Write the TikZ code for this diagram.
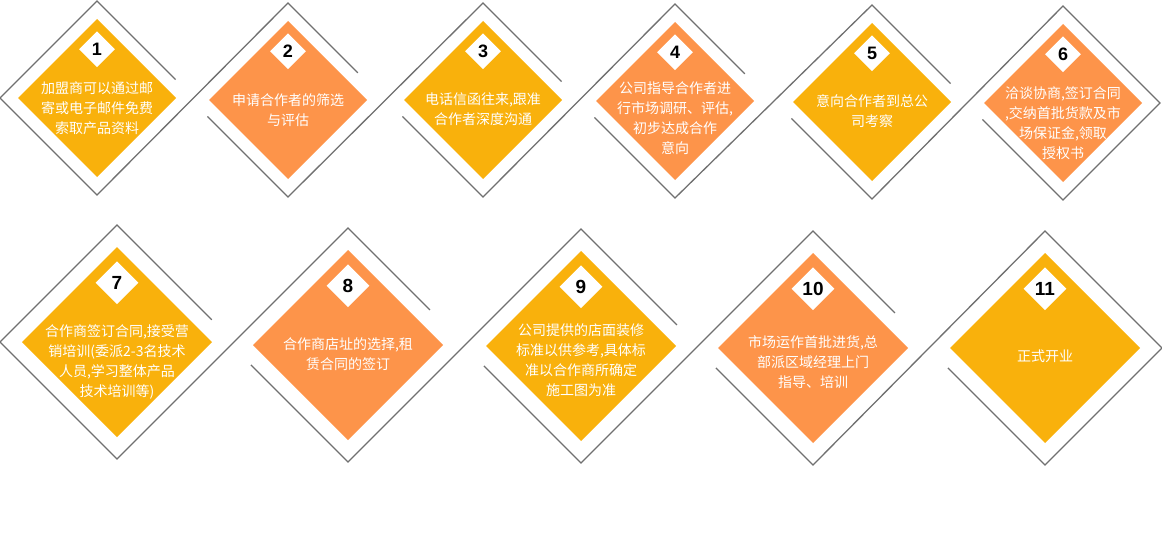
\documentclass[tikz,border=0pt]{standalone}
\usepackage{fontspec}
\setmainfont{Liberation Sans}
\newfontfamily\cjk{Noto Sans CJK SC}
\usetikzlibrary{positioning, shapes.geometric, calc}
\definecolor{padyellow}{RGB}{249,177,12}
\definecolor{padorange}{RGB}{253,148,74}
\definecolor{rimgray}{RGB}{112,112,112}

\begin{document}
\begin{tikzpicture}[x=1pt, y=-1pt,
    rim/.style={draw=rimgray, line width=1.3pt},
    ring/.style={diamond, minimum size=194pt, inner sep=0pt, outer sep=0pt},
    ringb/.style={ring, minimum size=234pt},
    pad/.style={diamond, minimum size=158pt, inner sep=0pt, outer sep=0pt},
    padb/.style={pad, minimum size=190pt},
    num/.style={diamond, fill=white, minimum size=36pt, inner sep=0pt, font=\fontsize{18}{18}\selectfont\bfseries},
    numb/.style={num, minimum size=43pt, font=\fontsize{19}{19}\selectfont\bfseries},
    txt/.style={align=center, text=white, font=\cjk\fontsize{14}{20}\selectfont}]
    \useasboundingbox (0,0) rectangle (1162,543);

    % first row
    \node[ring] (o1) at (97,98)   {};
    \node[ring] (o2) at (288,100) {};
    \node[ring] (o3) at (483,100) {};
    \node[ring] (o4) at (675,101) {};
    \node[ring] (o5) at (872,102) {};
    \node[ring] (o6) at (1063,103) {};
    \node[pad, fill=padyellow] (d1) at (o1) {};
    \node[pad, fill=padorange] (d2) at (o2) {};
    \node[pad, fill=padyellow] (d3) at (o3) {};
    \node[pad, fill=padorange] (d4) at (o4) {};
    \node[pad, fill=padyellow] (d5) at (o5) {};
    \node[pad, fill=padorange] (d6) at (o6) {};
    \node[num, below=12pt of d1.north] (n1) {1};
    \node[num, below=12pt of d2.north] (n2) {2};
    \node[num, below=12pt of d3.north] (n3) {3};
    \node[num, below=12pt of d4.north] (n4) {4};
    \node[num, below=12pt of d5.north] (n5) {5};
    \node[num, below=12pt of d6.north] (n6) {6};
    \node[txt, yshift=-10pt] (t1) at (d1) {加盟商可以通过邮\\寄或电子邮件免费\\索取产品资料};
    \node[txt, yshift=-10pt] (t2) at (d2) {申请合作者的筛选\\与评估};
    \node[txt, yshift=-9pt]  (t3) at (d3) {电话信函往来,跟准\\合作者深度沟通};
    \node[txt, yshift=-17pt] (t4) at (d4) {公司指导合作者进\\行市场调研、评估,\\初步达成合作\\意向};
    \node[txt, yshift=-9pt]  (t5) at (d5) {意向合作者到总公\\司考察};
    \node[txt, yshift=-20pt] (t6) at (d6) {洽谈协商,签订合同\\,交纳首批货款及市\\场保证金,领取\\授权书};
    \draw[rim] ($(o1.north)!0.81!(o1.east)$) -- (o1.north) -- (o1.west) -- (o1.south)
      -- (o2.north) -- ($(o2.north)!0.72!(o2.east)$)
      ($(o2.west)!0.17!(o2.south)$) -- (o2.south) -- (o3.north) -- ($(o3.north)!0.81!(o3.east)$)
      ($(o3.west)!0.17!(o3.south)$) -- (o3.south) -- (o4.north) -- ($(o4.north)!0.72!(o4.east)$)
      ($(o4.west)!0.17!(o4.south)$) -- (o4.south) -- (o5.north) -- ($(o5.north)!0.81!(o5.east)$)
      ($(o5.west)!0.17!(o5.south)$) -- (o5.south) -- (o6.north) -- (o6.east) -- (o6.south)
      -- ($(o6.south)!0.83!(o6.west)$);

    % second row
    \node[ringb] (o7)  at (117,342)  {};
    \node[ringb] (o8)  at (348,345)  {};
    \node[ringb] (o9)  at (581,346)  {};
    \node[ringb] (o10) at (813,348)  {};
    \node[ringb] (o11) at (1045,348) {};
    \node[padb, fill=padyellow] (d7)  at (o7)  {};
    \node[padb, fill=padorange] (d8)  at (o8)  {};
    \node[padb, fill=padyellow] (d9)  at (o9)  {};
    \node[padb, fill=padorange] (d10) at (o10) {};
    \node[padb, fill=padyellow] (d11) at (o11) {};
    \node[numb, below=14pt of d7.north]  (n7)  {7};
    \node[numb, below=14pt of d8.north]  (n8)  {8};
    \node[numb, below=14pt of d9.north]  (n9)  {9};
    \node[numb, below=14pt of d10.north] (n10) {10};
    \node[numb, below=14pt of d11.north] (n11) {11};
    \node[txt, yshift=-20pt] (t7)  at (d7)  {合作商签订合同,接受营\\销培训(委派2-3名技术\\人员,学习整体产品\\技术培训等)};
    \node[txt, yshift=-9pt]  (t8)  at (d8)  {合作商店址的选择,租\\赁合同的签订};
    \node[txt, yshift=-14pt] (t9)  at (d9)  {公司提供的店面装修\\标准以供参考,具体标\\准以合作商所确定\\施工图为准};
    \node[txt, yshift=-14pt] (t10) at (d10) {市场运作首批进货,总\\部派区域经理上门\\指导、培训};
    \node[txt, yshift=-8pt]  (t11) at (d11) {正式开业};
    \draw[rim] ($(o7.north)!0.81!(o7.east)$) -- (o7.north) -- (o7.west) -- (o7.south)
      -- (o8.north) -- ($(o8.north)!0.7!(o8.east)$)
      ($(o8.west)!0.17!(o8.south)$) -- (o8.south) -- (o9.north) -- ($(o9.north)!0.82!(o9.east)$)
      ($(o9.west)!0.17!(o9.south)$) -- (o9.south) -- (o10.north) -- ($(o10.north)!0.7!(o10.east)$)
      ($(o10.west)!0.17!(o10.south)$) -- (o10.south) -- (o11.north) -- (o11.east) -- (o11.south)
      -- ($(o11.south)!0.83!(o11.west)$);
  \end{tikzpicture}
\end{document}
